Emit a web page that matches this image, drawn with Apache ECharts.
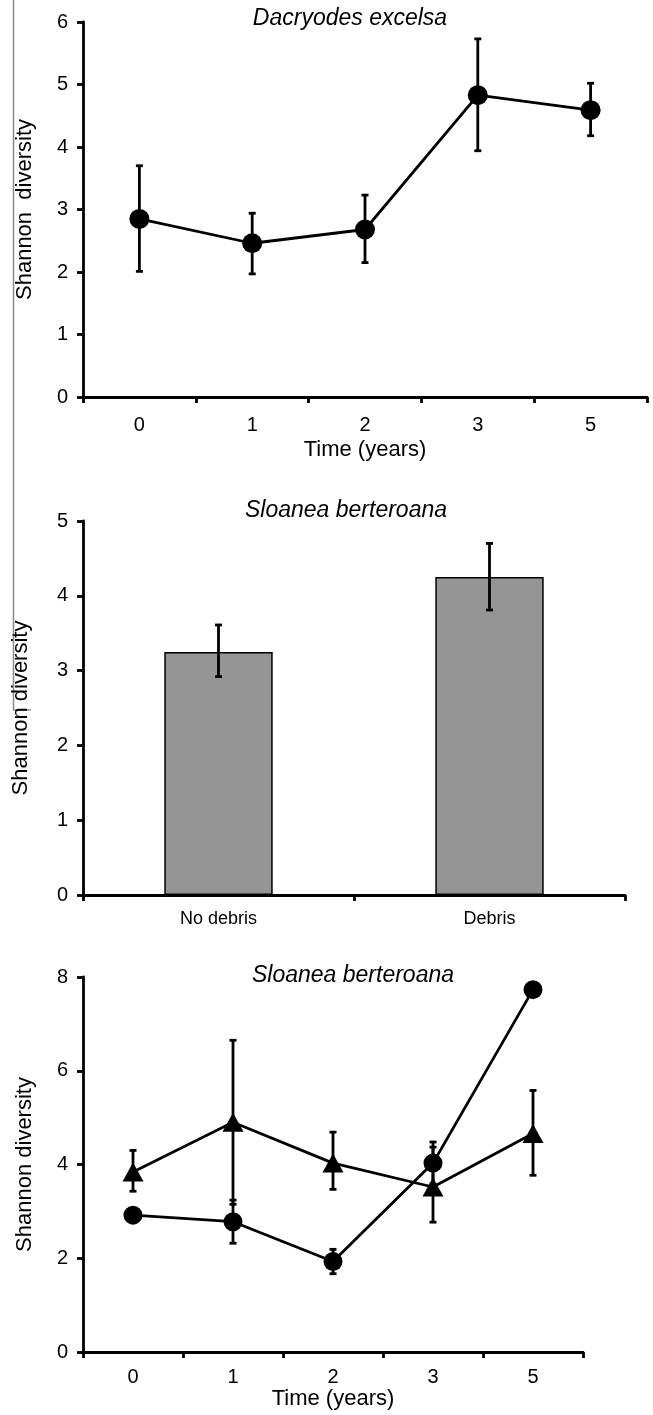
<!DOCTYPE html>
<html>
<head>
<meta charset="utf-8">
<script src="https://cdn.jsdelivr.net/npm/echarts@6/dist/echarts.min.js"></script>
<style>
html,body{margin:0;padding:0;background:#fff;}
#c{width:653px;height:1415px;}
</style>
</head>
<body>
<div id="c"></div>
<script>
// ---- Data ----
const topTitle = 'Dacryodes excelsa';
const topCats = ['0', '1', '2', '3', '5'];
const topMean = [2.85, 2.46, 2.68, 4.83, 4.59];
const topLow  = [2.01, 1.97, 2.15, 3.94, 4.18];
const topHigh = [3.70, 2.94, 3.23, 5.73, 5.02];

const midTitle = 'Sloanea berteroana';
const midCats = ['No debris', 'Debris'];
const midMean = [3.25, 4.25];
const midLow  = [2.92, 3.81];
const midHigh = [3.61, 4.70];

const botTitle = 'Sloanea berteroana';
const botCats = ['0', '1', '2', '3', '5'];
const botCircle     = [2.92, 2.78, 1.93, 4.03, 7.73];
const botCircleLow  = [null, 2.32, 1.67, 3.58, null];
const botCircleHigh = [null, 3.24, 2.19, 4.48, null];
const botTri     = [3.84, 4.90, 4.03, 3.52, 4.66];
const botTriLow  = [3.43, 3.15, 3.47, 2.77, 3.77];
const botTriHigh = [4.30, 6.65, 4.69, 4.37, 5.58];

const yNameTop = 'Shannon  diversity';
const yName = 'Shannon diversity';
const xName = 'Time (years)';

// ---- Helpers ----
const FONT = 'Liberation Sans, Arial, sans-serif';
const LW = 2.8;
function errData(low, high) {
  const out = [];
  low.forEach((l, i) => { if (l != null && high[i] != null) out.push([i, l, high[i]]); });
  return out;
}
function errRender(params, api) {
  const x = api.value(0);
  const lo = api.coord([x, api.value(1)]);
  const hi = api.coord([x, api.value(2)]);
  const w = 3.5;
  const st = { stroke: '#000', lineWidth: LW };
  return {
    type: 'group',
    children: [
      { type: 'line', shape: { x1: lo[0], y1: lo[1], x2: hi[0], y2: hi[1] }, style: st },
      { type: 'line', shape: { x1: lo[0] - w, y1: lo[1], x2: lo[0] + w, y2: lo[1] }, style: st },
      { type: 'line', shape: { x1: hi[0] - w, y1: hi[1], x2: hi[0] + w, y2: hi[1] }, style: st }
    ]
  };
}
function xAxisCfg(idx, cats, labelSize, labelMargin, name, nameGap) {
  return {
    type: 'category', gridIndex: idx, data: cats, boundaryGap: true,
    axisLine: { lineStyle: { color: '#000', width: LW } },
    axisTick: { show: true, length: 6, alignWithLabel: false, lineStyle: { color: '#000', width: LW } },
    axisLabel: { color: '#000', fontSize: labelSize, fontFamily: FONT, margin: labelMargin, interval: 0 },
    name: name, nameLocation: 'middle', nameGap: nameGap,
    nameTextStyle: { color: '#000', fontSize: 22, fontFamily: FONT },
    splitLine: { show: false }
  };
}
function yAxisCfg(idx, max, interval, name, nameGap) {
  return {
    type: 'value', gridIndex: idx, min: 0, max: max, interval: interval,
    axisLine: { show: true, lineStyle: { color: '#000', width: LW } },
    axisTick: { show: true, length: 6, lineStyle: { color: '#000', width: LW } },
    axisLabel: { color: '#000', fontSize: 20, fontFamily: FONT, margin: 15 },
    splitLine: { show: false },
    name: name, nameLocation: 'middle', nameGap: nameGap, nameRotate: 90,
    nameTextStyle: { color: '#000', fontSize: 22, fontFamily: FONT }
  };
}

const chart = echarts.init(document.getElementById('c'), null, { renderer: 'canvas' });
chart.setOption({
  animation: false,
  backgroundColor: '#fff',
  grid: [
    { left: 83, top: 22, width: 564, height: 375 },
    { left: 83, top: 521, width: 542, height: 374 },
    { left: 83, top: 977, width: 500, height: 375 }
  ],
  xAxis: [
    xAxisCfg(0, topCats, 20, 18, xName, 42),
    xAxisCfg(1, midCats, 18, 15, '', 0),
    xAxisCfg(2, botCats, 20, 15, xName, 28)
  ],
  yAxis: [
    yAxisCfg(0, 6, 1, yNameTop, 47),
    yAxisCfg(1, 5, 1, yName, 51),
    yAxisCfg(2, 8, 2, yName, 47)
  ],
  graphic: [
    { type: 'text', x: 350, y: 7, style: { text: topTitle, textAlign: 'center', textVerticalAlign: 'top', font: 'italic 23px ' + FONT, fill: '#000' } },
    { type: 'text', x: 346, y: 499, style: { text: midTitle, textAlign: 'center', textVerticalAlign: 'top', font: 'italic 23px ' + FONT, fill: '#000' } },
    { type: 'text', x: 353, y: 964, style: { text: botTitle, textAlign: 'center', textVerticalAlign: 'top', font: 'italic 23px ' + FONT, fill: '#000' } },
    { type: 'line', shape: { x1: 13.5, y1: 0, x2: 13.5, y2: 710 }, style: { stroke: '#8a8a8a', lineWidth: 1.5 } },
    { type: 'line', shape: { x1: 13, y1: 710, x2: 31, y2: 710 }, style: { stroke: '#8a8a8a', lineWidth: 1.5 } }
  ],
  series: [
    { type: 'custom', xAxisIndex: 0, yAxisIndex: 0, renderItem: errRender, data: errData(topLow, topHigh), encode: { x: 0, y: [1, 2] }, z: 2 },
    { type: 'line', xAxisIndex: 0, yAxisIndex: 0, data: topMean, symbol: 'circle', symbolSize: 20,
      lineStyle: { color: '#000', width: LW }, itemStyle: { color: '#000' }, z: 3 },

    { type: 'bar', xAxisIndex: 1, yAxisIndex: 1, data: midMean, barWidth: '40%',
      itemStyle: { color: '#959595', borderColor: '#000', borderWidth: 1.5 }, z: 2 },
    { type: 'custom', xAxisIndex: 1, yAxisIndex: 1, renderItem: errRender, data: errData(midLow, midHigh), encode: { x: 0, y: [1, 2] }, z: 3 },

    { type: 'custom', xAxisIndex: 2, yAxisIndex: 2, renderItem: errRender, data: errData(botTriLow, botTriHigh), encode: { x: 0, y: [1, 2] }, z: 2 },
    { type: 'custom', xAxisIndex: 2, yAxisIndex: 2, renderItem: errRender, data: errData(botCircleLow, botCircleHigh), encode: { x: 0, y: [1, 2] }, z: 2 },
    { type: 'line', xAxisIndex: 2, yAxisIndex: 2, data: botTri, symbol: 'triangle', symbolSize: [21, 19],
      lineStyle: { color: '#000', width: LW }, itemStyle: { color: '#000' }, z: 3 },
    { type: 'line', xAxisIndex: 2, yAxisIndex: 2, data: botCircle, symbol: 'circle', symbolSize: 19,
      lineStyle: { color: '#000', width: LW }, itemStyle: { color: '#000' }, z: 3 }
  ]
});
</script>
</body>
</html>
